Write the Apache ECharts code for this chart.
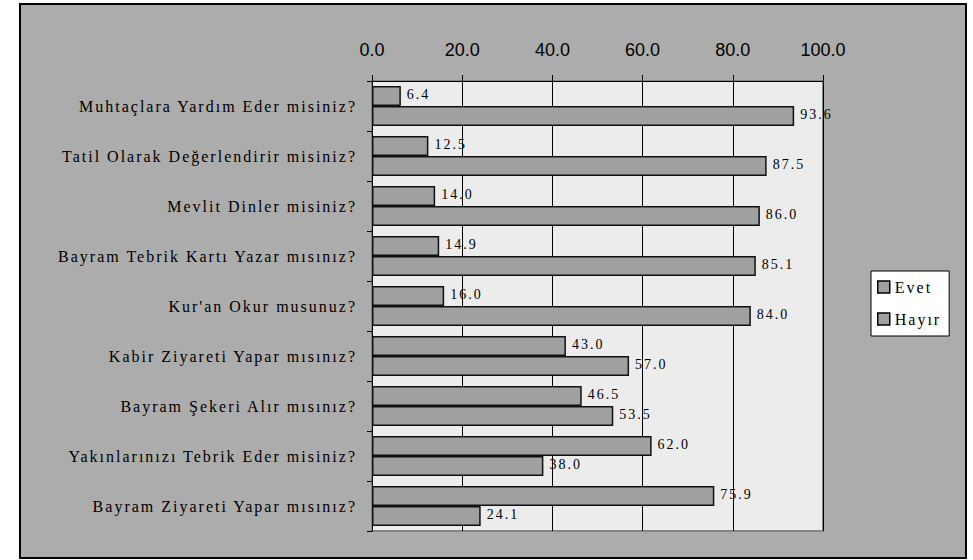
<!DOCTYPE html>
<html>
<head>
<meta charset="utf-8">
<script src="https://cdn.jsdelivr.net/npm/echarts@6/dist/echarts.min.js"></script>
<style>
  html, body { margin: 0; padding: 0; background: #fff; }
  #chart { width: 973px; height: 560px; }
  #chart text[style*="Serif"] { letter-spacing: 2px; font-family: 'Liberation Serif', serif !important; }
</style>
</head>
<body>
<div id="chart"></div>
<script>
const categories = [
  'Muhtaçlara Yardım Eder misiniz?',
  'Tatil Olarak Değerlendirir misiniz?',
  'Mevlit Dinler misiniz?',
  'Bayram Tebrik Kartı Yazar mısınız?',
  "Kur'an Okur musunuz?",
  'Kabir Ziyareti Yapar mısınız?',
  'Bayram Şekeri Alır mısınız?',
  'Yakınlarınızı Tebrik Eder misiniz?',
  'Bayram Ziyareti Yapar mısınız?'
];
const evet = [6.4, 12.5, 14.0, 14.9, 16.0, 43.0, 46.5, 62.0, 75.9];
const hayir = [93.6, 87.5, 86.0, 85.1, 84.0, 57.0, 53.5, 38.0, 24.1];
const seriesNames = ['Evet', 'Hayır'];

const chart = echarts.init(document.getElementById('chart'), null, { renderer: 'svg' });
const serif = "'Liberation Serif', serif";
const barStyle = { color: '#a0a0a0', borderColor: '#111', borderWidth: 1.5 };
const labelStyle = {
  show: true, position: 'right', distance: 6, offset: [0, -2],
  color: '#000', fontFamily: serif, fontSize: 14,
  formatter: p => p.value.toFixed(1)
};
chart.setOption({
  animation: false,
  backgroundColor: '#fff',
  graphic: [{
    type: 'rect', z: -100, silent: true,
    shape: { x: 20, y: 4, width: 946, height: 554 },
    style: { fill: '#acacac', stroke: '#000', lineWidth: 2 }
  }],
  grid: {
    left: 372, top: 81, right: 150, bottom: 29,
    show: true, backgroundColor: '#ececec', borderColor: '#858585', borderWidth: 2
  },
  legend: {
    orient: 'vertical', left: 871, top: 271,
    data: seriesNames,
    backgroundColor: '#fff', borderColor: '#000', borderWidth: 1,
    padding: [8, 18, 9, 6], itemGap: 16,
    icon: 'rect', itemWidth: 12, itemHeight: 12,
    itemStyle: { borderColor: '#000', borderWidth: 1.5 },
    textStyle: { fontFamily: serif, fontSize: 16, color: '#000' }
  },
  xAxis: {
    type: 'value', position: 'top', min: 0, max: 100, interval: 20,
    axisLine: { show: true, lineStyle: { color: '#000', width: 1 } },
    axisTick: { show: true, length: 6, lineStyle: { color: '#000' } },
    splitLine: { show: true, lineStyle: { color: '#000', width: 1 } },
    axisLabel: {
      margin: 22, color: '#000', fontFamily: 'Liberation Sans', fontSize: 18,
      formatter: v => v.toFixed(1)
    }
  },
  yAxis: {
    type: 'category', inverse: true, data: categories,
    axisLine: { show: true, lineStyle: { color: '#000', width: 1 } },
    axisTick: { show: true, length: 5, lineStyle: { color: '#000' } },
    axisLabel: { margin: 15, color: '#000', fontFamily: serif, fontSize: 16 }
  },
  series: [
    { name: seriesNames[0], type: 'bar', data: evet, barGap: '0%', barCategoryGap: '20%',
      itemStyle: barStyle, label: labelStyle },
    { name: seriesNames[1], type: 'bar', data: hayir, barGap: '0%', barCategoryGap: '20%',
      itemStyle: barStyle, label: labelStyle }
  ]
});
</script>
</body>
</html>
